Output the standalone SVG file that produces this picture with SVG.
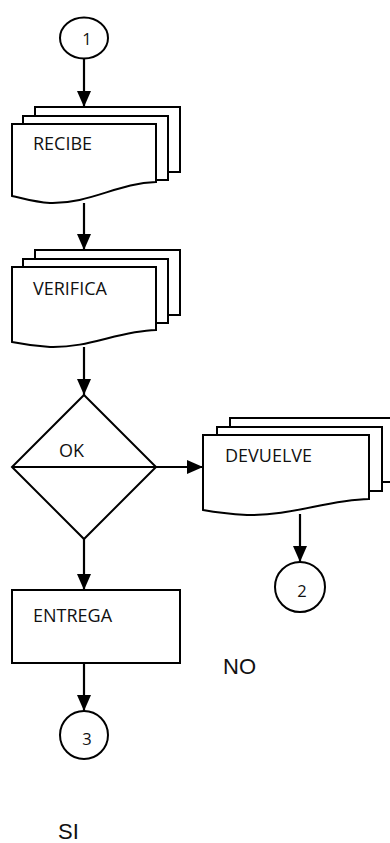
<svg xmlns="http://www.w3.org/2000/svg" width="390" height="843" viewBox="0 0 390 843">
<style>
.s{fill:#fff;stroke:#000;stroke-width:2}
.c{fill:none;stroke:#000;stroke-width:2.2}
.t{font-family:"Open Sans","Liberation Sans",sans-serif;font-size:18px;fill:#111}
.d{font-family:"Open Sans","Liberation Sans",sans-serif;font-size:16.5px;fill:#111;text-anchor:middle}
.a{font-family:"Liberation Sans",Arial,sans-serif;font-size:22px;fill:#111}
</style>
<defs>
<marker id="ah" markerUnits="userSpaceOnUse" markerWidth="16" markerHeight="14" refX="16" refY="7" orient="auto">
<path d="M0,0 L16,7 L0,14 z" fill="#000"/>
</marker>
</defs>
<g id="connectors">
<line class="c" x1="84" y1="58" x2="84" y2="107" marker-end="url(#ah)"/>
<line class="c" x1="84" y1="203" x2="84" y2="250" marker-end="url(#ah)"/>
<line class="c" x1="84" y1="347" x2="84" y2="395" marker-end="url(#ah)"/>
<line class="c" x1="156" y1="467" x2="203" y2="467" marker-end="url(#ah)"/>
<line class="c" x1="84" y1="539" x2="84" y2="590" marker-end="url(#ah)"/>
<line class="c" x1="84" y1="663" x2="84" y2="711" marker-end="url(#ah)"/>
<line class="c" x1="300" y1="514" x2="300" y2="562" marker-end="url(#ah)"/>
</g>
<g id="n1">
<ellipse class="s" cx="84" cy="38" rx="24" ry="20.5"/>
<text class="d" x="87" y="45">1</text>
</g>
<g id="recibe">
<rect class="s" x="35" y="107" width="145" height="65"/>
<rect class="s" x="23" y="116" width="145" height="64"/>
<path class="s" d="M12,124 H156 V182 C118,183 90,204 50,203 C34,202 22,198 12,196 Z"/>
<text class="t" x="33" y="150">RECIBE</text>
</g>
<g id="verifica">
<rect class="s" x="35" y="250" width="145" height="65"/>
<rect class="s" x="23" y="259" width="145" height="64"/>
<path class="s" d="M12,267 H156 V330 C118,331 90,348 50,347 C34,346 22,344 12,342 Z"/>
<text class="t" x="33" y="295">VERIFICA</text>
</g>
<g id="ok">
<path class="s" d="M84,395 L156,467 L84,539 L12,467 Z"/>
<line class="c" x1="12" y1="467" x2="156" y2="467"/>
<text class="t" x="59" y="457">OK</text>
</g>
<g id="devuelve">
<rect class="s" x="230" y="418" width="166" height="64"/>
<rect class="s" x="217" y="427" width="165" height="64"/>
<path class="s" d="M203,435 H369 V499 C326,500 292,516 247,515 C229,514 214,512 203,510 Z"/>
<text class="t" x="225" y="462">DEVUELVE</text>
</g>
<g id="n2">
<circle class="s" cx="300" cy="587" r="25"/>
<text class="d" x="302" y="597">2</text>
</g>
<g id="entrega">
<rect class="s" x="12" y="590" width="168" height="73"/>
<text class="t" x="33" y="622">ENTREGA</text>
</g>
<g id="n3">
<ellipse class="s" cx="84" cy="735" rx="24" ry="24"/>
<text class="d" x="87" y="745">3</text>
</g>
<text class="a" x="223" y="674">NO</text>
<text class="a" x="58" y="839">SI</text>
</svg>
